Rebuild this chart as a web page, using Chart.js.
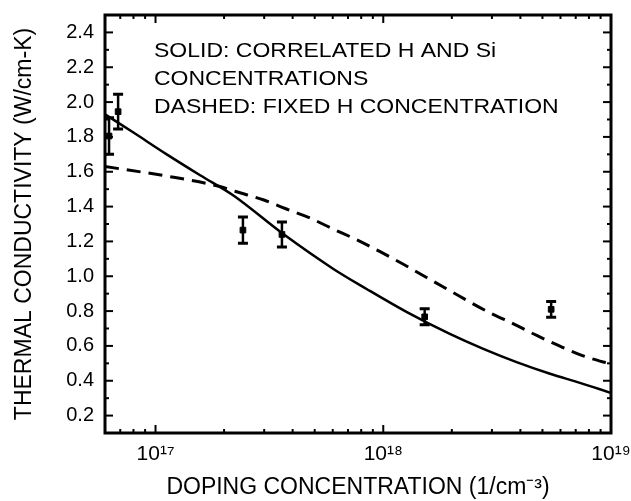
<!DOCTYPE html>
<html>
<head>
<meta charset="utf-8">
<script src="https://cdn.jsdelivr.net/npm/chart.js@4.4.1/dist/chart.umd.min.js"></script>
<style>
html,body{margin:0;padding:0;background:#fff;}
#wrap{width:631px;height:501px;}
</style>
</head>
<body>
<div id="wrap"><canvas id="c" width="631" height="501"></canvas></div>
<script>
// ---- data ----
const xTickValues = [1e17, 1e18, 1e19];
const xTickLabels = ['10\u00B9\u2077', '10\u00B9\u2078', '10\u00B9\u2079'];
const xMinorTicks = [7e16, 8e16, 9e16, 2e17, 3e17, 4e17, 5e17, 6e17, 7e17, 8e17, 9e17,
                     2e18, 3e18, 4e18, 5e18, 6e18, 7e18, 8e18, 9e18];
const yTickValues = [0.2, 0.4, 0.6, 0.8, 1.0, 1.2, 1.4, 1.6, 1.8, 2.0, 2.2, 2.4];
const yTickLabels = ['0.2', '0.4', '0.6', '0.8', '1.0', '1.2', '1.4', '1.6', '1.8', '2.0', '2.2', '2.4'];
const yMinorTicks = [0.3, 0.5, 0.7, 0.9, 1.1, 1.3, 1.5, 1.7, 1.9, 2.1, 2.3];

const measX   = [6.25e16, 6.85e16, 2.42e17, 3.59e17, 1.52e18, 5.46e18];
const measY   = [1.805, 1.945, 1.265, 1.24, 0.767, 0.81];
const measErr = [0.105, 0.100, 0.075, 0.072, 0.046, 0.045];

const solidX = [6e16, 8e16, 1.12e17, 1.57e17, 2.19e17, 3.64e17, 6.04e17, 8.45e17, 1.27e18,
                1.96e18, 2.75e18, 3.85e18, 5.4e18, 7.3e18, 1e19];
const solidY = [1.93, 1.825, 1.70, 1.58, 1.465, 1.242, 1.042, 0.927, 0.794,
                0.669, 0.583, 0.507, 0.44, 0.388, 0.33];

const dashedX = [6e16, 1.12e17, 1.92e17, 2.27e17, 2.97e17, 3.76e17, 4.77e17, 6.03e17, 7.63e17,
                 9.69e17, 1.22e18, 1.9e18, 2.94e18, 3.73e18, 4.72e18, 5.87e18, 7.44e18, 9.25e18, 1e19];
const dashedY = [1.63, 1.575, 1.515, 1.485, 1.439, 1.386, 1.334, 1.271, 1.21,
                 1.141, 1.07, 0.927, 0.79, 0.727, 0.66, 0.603, 0.546, 0.508, 0.497];

const noteLines = ['SOLID: CORRELATED H AND Si', 'CONCENTRATIONS', 'DASHED: FIXED H CONCENTRATION'];
const xTitle = 'DOPING CONCENTRATION (1/cm\u207B\u00B3)';
const yTitle = 'THERMAL CONDUCTIVITY (W/cm-K)';

const FONT = '"Liberation Sans", Arial, Helvetica, sans-serif';

// ---- plugin: frame, inward ticks, error bars, note ----
const decor = {
  id: 'decor',
  afterDatasetsDraw(chart) {
    const ctx = chart.ctx, xs = chart.scales.x, ys = chart.scales.y;
    ctx.save();
    ctx.strokeStyle = '#000';
    ctx.lineCap = 'butt';
    for (let i = 0; i < measX.length; i++) {
      const px = xs.getPixelForValue(measX[i]);
      const yt = ys.getPixelForValue(measY[i] + measErr[i]);
      const yb = ys.getPixelForValue(measY[i] - measErr[i]);
      ctx.lineWidth = 2.5;
      ctx.beginPath(); ctx.moveTo(px, yt); ctx.lineTo(px, yb); ctx.stroke();
      ctx.lineWidth = 3;
      ctx.beginPath();
      ctx.moveTo(px - 5, yt); ctx.lineTo(px + 5, yt);
      ctx.moveTo(px - 5, yb); ctx.lineTo(px + 5, yb);
      ctx.stroke();
    }
    ctx.restore();
  },
  afterDraw(chart) {
    const ctx = chart.ctx, a = chart.chartArea, xs = chart.scales.x, ys = chart.scales.y;
    ctx.save();
    ctx.strokeStyle = '#000';
    ctx.lineWidth = 2;
    const tick = (x1, y1, x2, y2) => { ctx.beginPath(); ctx.moveTo(x1, y1); ctx.lineTo(x2, y2); ctx.stroke(); };
    xTickValues.forEach(v => { const p = xs.getPixelForValue(v); tick(p, a.bottom, p, a.bottom - 8); tick(p, a.top, p, a.top + 8); });
    xMinorTicks.forEach(v => { const p = xs.getPixelForValue(v); tick(p, a.bottom, p, a.bottom - 4); tick(p, a.top, p, a.top + 4); });
    yTickValues.forEach(v => { const p = ys.getPixelForValue(v); tick(a.left, p, a.left + 8, p); tick(a.right, p, a.right - 8, p); });
    yMinorTicks.forEach(v => { const p = ys.getPixelForValue(v); tick(a.left, p, a.left + 4, p); tick(a.right, p, a.right - 4, p); });
    ctx.lineWidth = 3;
    ctx.strokeRect(a.left, a.top, a.right - a.left, a.bottom - a.top);
    // note text
    ctx.fillStyle = '#000';
    ctx.font = '20px ' + FONT;
    ctx.textBaseline = 'alphabetic';
    ctx.textAlign = 'left';
    const sx = 1.15;
    ctx.scale(sx, 1);
    noteLines.forEach((t, i) => ctx.fillText(t, (a.left + 49) / sx, a.top + 42 + i * 28));
    ctx.restore();
  }
};

const noPad = s => { s.paddingTop = 0; s.paddingBottom = 0; s.paddingLeft = 0; s.paddingRight = 0; };

new Chart(document.getElementById('c'), {
  type: 'scatter',
  data: {
    datasets: [
      {
        label: 'solid',
        data: solidX.map((x, i) => ({ x, y: solidY[i] })),
        showLine: true, borderColor: '#000', borderWidth: 2.5,
        pointRadius: 0, cubicInterpolationMode: 'monotone', fill: false
      },
      {
        label: 'dashed',
        data: dashedX.map((x, i) => ({ x, y: dashedY[i] })),
        showLine: true, borderColor: '#000', borderWidth: 3, borderDash: [14, 8],
        pointRadius: 0, cubicInterpolationMode: 'monotone', fill: false
      },
      {
        label: 'measured',
        data: measX.map((x, i) => ({ x, y: measY[i] })),
        showLine: false, pointStyle: 'rect', pointRadius: 4,
        backgroundColor: '#000', borderColor: '#000'
      }
    ]
  },
  options: {
    responsive: false,
    animation: false,
    devicePixelRatio: 1,
    layout: { padding: { left: 0, top: 15, right: 20, bottom: 0 } },
    plugins: { legend: { display: false }, tooltip: { enabled: false } },
    scales: {
      x: {
        type: 'logarithmic', min: 6e16, max: 1e19,
        grid: { display: false, drawTicks: false },
        border: { display: false },
        afterBuildTicks: s => { s.ticks = xTickValues.map(v => ({ value: v })); },
        afterFit: s => { s.height = 68; noPad(s); },
        ticks: {
          autoSkip: false, maxRotation: 0, padding: 9, color: '#000',
          font: { family: FONT, size: 21 },
          callback: (v, i) => xTickLabels[i]
        },
        title: {
          display: true, text: xTitle, color: '#000',
          font: { family: FONT, size: 23 }, padding: { top: 0, bottom: 0 }
        }
      },
      y: {
        type: 'linear', min: 0.1, max: 2.5,
        grid: { display: false, drawTicks: false },
        border: { display: false },
        afterBuildTicks: s => { s.ticks = yTickValues.map(v => ({ value: v })); },
        afterFit: s => { s.width = 105; noPad(s); },
        ticks: {
          autoSkip: false, padding: 11, color: '#000',
          font: { family: FONT, size: 20 },
          callback: (v, i) => yTickLabels[i]
        },
        title: {
          display: true, text: yTitle, color: '#000',
          font: { family: FONT, size: 23 }, padding: { top: 11, bottom: 0 }
        }
      }
    }
  },
  plugins: [decor]
});
</script>
</body>
</html>
